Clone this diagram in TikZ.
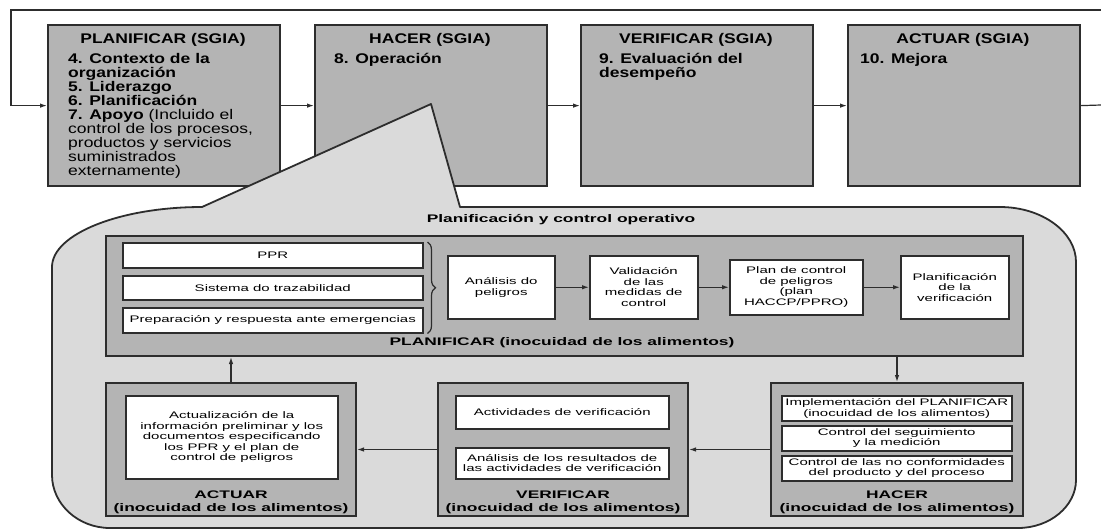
\documentclass[tikz,border=0pt]{standalone}
\usepackage{fontspec}
\setmainfont{Liberation Sans}
\newfontfamily\topfont{Liberation Sans}[FakeStretch=1.25]
\newfontfamily\lowfont{Liberation Sans}[FakeStretch=1.58]
\usepackage{tikz}
\usetikzlibrary{arrows.meta,positioning,decorations.pathreplacing}
\definecolor{boxgray}{RGB}{180,180,180}
\definecolor{calloutgray}{RGB}{218,218,218}
\definecolor{edgegray}{RGB}{45,45,45}

\begin{document}
\begin{tikzpicture}[x=1pt, y=-1pt,
    sgia/.style={rectangle, draw=edgegray, fill=boxgray, line width=2.2pt, anchor=north west, minimum width=232pt, minimum height=161pt, inner sep=0pt},
    sgiatitle/.style={font=\topfont\fontsize{14}{14}\selectfont\bfseries, anchor=base},
    sgiatext/.style={font=\topfont\fontsize{14}{14}\selectfont, anchor=north west, align=left, inner sep=0pt},
    callout/.style={draw=edgegray, fill=calloutgray, line width=1.8pt, line join=round},
    phase/.style={rectangle, draw=edgegray, fill=boxgray, line width=2pt, anchor=north west, inner sep=0pt},
    whitebox/.style={rectangle, draw=edgegray, fill=white, line width=1.5pt, anchor=north west, inner sep=1pt, align=center, font=\lowfont\fontsize{9.5}{10.5}\selectfont},
    phaselabel/.style={font=\lowfont\fontsize{11}{13}\selectfont\bfseries, align=center},
    flow/.style={-{Latex[length=7pt,width=4.5pt]}, line width=1.2pt, draw=edgegray},
    link/.style={line width=1.2pt, draw=edgegray}
]

\fill[white] (0,0) rectangle (1101,531);
\useasboundingbox (0,0) rectangle (1101,531);

% SGIA cycle - top row
\node[sgia] (plan) at (47,24) {};
\node[sgia] (do) at (314,24) {};
\node[sgia] (check) at (580,24) {};
\node[sgia] (act) at (847,24) {};

\node[sgiatitle] (plantitle) at (163,43) {PLANIFICAR (SGIA)};
\node[sgiatitle] (dotitle) at (430,43) {HACER (SGIA)};
\node[sgiatitle] (checktitle) at (696,43) {VERIFICAR (SGIA)};
\node[sgiatitle] (acttitle) at (963,43) {ACTUAR (SGIA)};

\node[sgiatext] (plantext) at (68,53) {\textbf{4. Contexto de la}\\\textbf{organización}\\\textbf{5. Liderazgo}\\\textbf{6. Planificación}\\\textbf{7. Apoyo} (Incluido el\\control de los procesos,\\productos y servicios\\suministrados\\externamente)};
\node[sgiatext] (dotext) at (334,53) {\textbf{8. Operación}};
\node[sgiatext] (checktext) at (599,53) {\textbf{9. Evaluación del}\\\textbf{desempeño}};
\node[sgiatext] (acttext) at (860,53) {\textbf{10. Mejora}};

% loop of the cycle
\coordinate (loopout) at (1101,105);
\coordinate (loopright) at (1101,10);
\coordinate (loopleft) at (11,10);
\draw[flow] (loopright) -- (loopleft) -- (loopleft |- plan.west) -- (plan.west);
\draw[flow] (plan) -- (do);
\draw[flow] (do) -- (check);
\draw[flow] (check) -- (act);
\draw[link] (act.east) -- (loopout);

% callout
\draw[callout] (202,207) -- (431,104) -- (460,207) -- (1000,207)
    .. controls (1042,207) and (1076,232) .. (1076,262) -- (1076,480)
    .. controls (1076,506) and (1050,528) .. (1018,528) -- (110,528)
    .. controls (78,528) and (52,504) .. (52,475) -- (52,267)
    .. controls (52,234) and (120,207) .. cycle;
\node[phaselabel] (opctl) at (561,220) {Planificación y control operativo};

% PLANIFICAR (food safety)
\node[phase, minimum width=917pt, minimum height=120pt] (pfood) at (105,235) {};
\node[phaselabel] (pfoodlabel) at (562,343) {PLANIFICAR (inocuidad de los alimentos)};

\node[whitebox, minimum width=300pt, minimum height=25pt] (ppr) at (122,242) {PPR};
\node[whitebox, minimum width=300pt, minimum height=24pt] (trace) at (122,275) {Sistema do trazabilidad};
\node[whitebox, minimum width=300pt, minimum height=25pt] (emerg) at (122,307) {Preparación y respuesta ante emergencias};
\draw[decorate, decoration={brace, amplitude=8pt}, line width=1.2pt, edgegray] ([xshift=4pt]ppr.north east) -- ([xshift=4pt]emerg.south east);

\node[whitebox, minimum width=107pt, minimum height=63pt] (hazard) at (447,255) {Análisis do\\peligros};
\node[whitebox, minimum width=108pt, minimum height=63pt] (valid) at (589,255) {Validación\\de las\\medidas de\\control};
\node[whitebox, minimum width=133pt, minimum height=55pt] (hplan) at (729,259) {Plan de control\\de peligros\\(plan\\HACCP/PPRO)};
\node[whitebox, minimum width=108pt, minimum height=63pt] (vplan) at (900,255) {Planificación\\de la\\verificación};

\draw[flow] (hazard) -- (valid);
\draw[flow] (valid) -- (hplan);
\draw[flow] (hplan) -- (vplan);

% ACTUAR / VERIFICAR / HACER (food safety)
\node[phase, minimum width=250pt, minimum height=133pt] (afood) at (105,382) {};
\node[phase, minimum width=250pt, minimum height=133pt] (vfood) at (437,382) {};
\node[phase, minimum width=252pt, minimum height=133pt] (dfood) at (770,382) {};

\node[phaselabel, anchor=south, inner sep=3pt] (afoodlabel) at (afood.south) {ACTUAR\\(inocuidad de los alimentos)};
\node[phaselabel, anchor=south, inner sep=3pt] (vfoodlabel) at (vfood.south) {VERIFICAR\\(inocuidad de los alimentos)};
\node[phaselabel, anchor=south, inner sep=3pt] (dfoodlabel) at (dfood.south) {HACER\\(inocuidad de los alimentos)};

\node[whitebox, minimum width=212pt, minimum height=83pt] (update) at (125,395) {Actualización de la\\información preliminar y los\\documentos especificando\\los PPR y el plan de\\control de peligros};

\node[whitebox, minimum width=213pt, minimum height=33pt] (vact) at (455,395) {Actividades de verificación};
\node[whitebox, minimum width=213pt, minimum height=31pt] (vanal) at (455,447) {Análisis de los resultados de\\las actividades de verificación};

\node[whitebox, minimum width=230pt, minimum height=25pt, inner sep=0pt] (impl) at (781,395) {Implementación del PLANIFICAR\\(inocuidad de los alimentos)};
\node[whitebox, minimum width=230pt, minimum height=25pt, inner sep=0pt] (monit) at (781,425) {Control del seguimiento\\y la medición};
\node[whitebox, minimum width=230pt, minimum height=25pt, inner sep=0pt] (nonconf) at (781,455) {Control de las no conformidades\\del producto y del proceso};

\draw[flow] (pfood.south -| dfood.north) -- (dfood.north);
\draw[flow] (dfood.west) -- (vfood.east);
\draw[flow] (vfood.west) -- (afood.east);
\draw[flow] (afood.north) -- (afood.north |- pfood.south);

\end{tikzpicture}
\end{document}
